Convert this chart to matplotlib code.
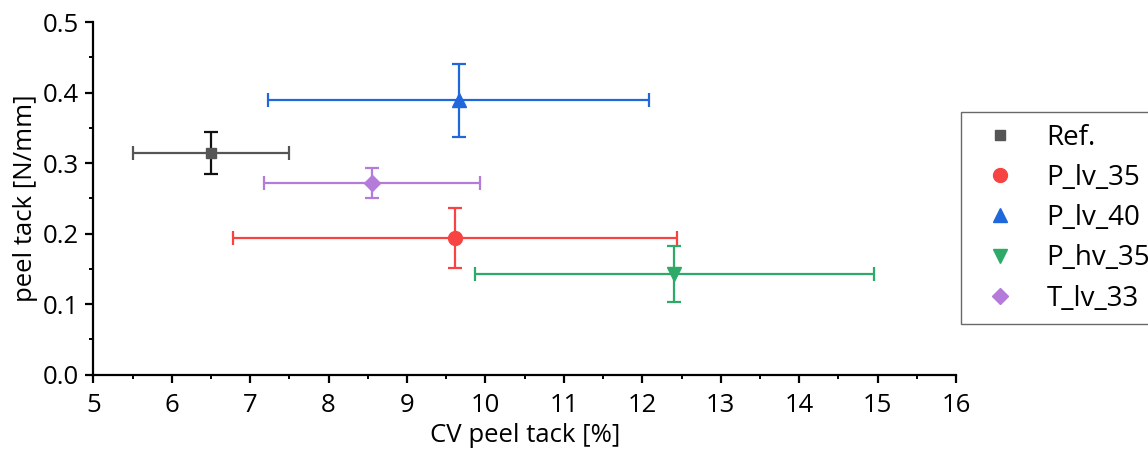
import matplotlib
matplotlib.use("Agg")
import matplotlib.pyplot as plt
from matplotlib.lines import Line2D
from matplotlib.ticker import MultipleLocator, FormatStrFormatter

plt.rcParams['font.family'] = ['Open Sans', 'DejaVu Sans']

names = ["Ref.", "P_lv_35", "P_lv_40", "P_hv_35", "T_lv_33"]
cv = [6.50, 9.61, 9.66, 12.41, 8.55]
cv_err = [0.99, 2.83, 2.43, 2.54, 1.375]
tack = [0.314, 0.194, 0.389, 0.143, 0.272]
tack_err = [0.030, 0.043, 0.052, 0.040, 0.021]

colors = ["#555555", "#F84343", "#1E68DC", "#2EAA68", "#B47BDB"]
ycolors = ["#111111", "#F84343", "#1E68DC", "#2EAA68", "#B47BDB"]
markers = ["s", "o", "^", "v", "D"]
msizes = [7.5, 10, 10, 10, 8]

fig = plt.figure(figsize=(11.48, 4.55), dpi=100)
ax = fig.add_axes([0.0813, 0.1765, 0.7515, 0.7751])

for i in range(len(names)):
    # horizontal and vertical bars drawn separately (Ref has a black y bar)
    ax.errorbar(cv[i], tack[i], xerr=cv_err[i], fmt='none', ecolor=colors[i],
                elinewidth=1.6, capsize=5, capthick=1.6)
    ax.errorbar(cv[i], tack[i], yerr=tack_err[i], fmt='none', ecolor=ycolors[i],
                elinewidth=1.6, capsize=5, capthick=1.6)
    ax.plot(cv[i], tack[i], marker=markers[i], color=colors[i], ms=msizes[i],
            linestyle='none', zorder=5)

ax.set_xlim(5, 16)
ax.set_ylim(0, 0.5)
ax.xaxis.set_major_locator(MultipleLocator(1))
ax.xaxis.set_minor_locator(MultipleLocator(0.5))
ax.yaxis.set_major_locator(MultipleLocator(0.1))
ax.yaxis.set_minor_locator(MultipleLocator(0.05))
ax.yaxis.set_major_formatter(FormatStrFormatter('%.1f'))

for s in ['top', 'right']:
    ax.spines[s].set_visible(False)
for s in ['left', 'bottom']:
    ax.spines[s].set_linewidth(1.6)
ax.tick_params(which='major', direction='out', length=5.5, width=1.6, labelsize=18.5)
ax.tick_params(axis='x', which='major', pad=8)
ax.tick_params(axis='y', which='major', pad=5)
ax.tick_params(which='minor', direction='out', length=3, width=1.4)

ax.set_xlabel("CV peel tack [%]", fontsize=18.5, labelpad=3)
ax.set_ylabel("peel tack [N/mm]", fontsize=18.5, labelpad=3)

handles = [Line2D([], [], marker=markers[i], color=colors[i], ms=msizes[i],
                  linestyle='none') for i in range(len(names))]
leg = fig.legend(handles, names, loc='upper left',
                 bbox_to_anchor=(961 / 1148, 1 - 112 / 455), fontsize=20,
                 frameon=True, fancybox=False, edgecolor='#444444',
                 labelspacing=0.44, borderpad=0.42, handletextpad=0.65,
                 borderaxespad=0, handlelength=2.0)
leg.get_frame().set_linewidth(1.0)

fig.savefig("out.png", dpi=100)
